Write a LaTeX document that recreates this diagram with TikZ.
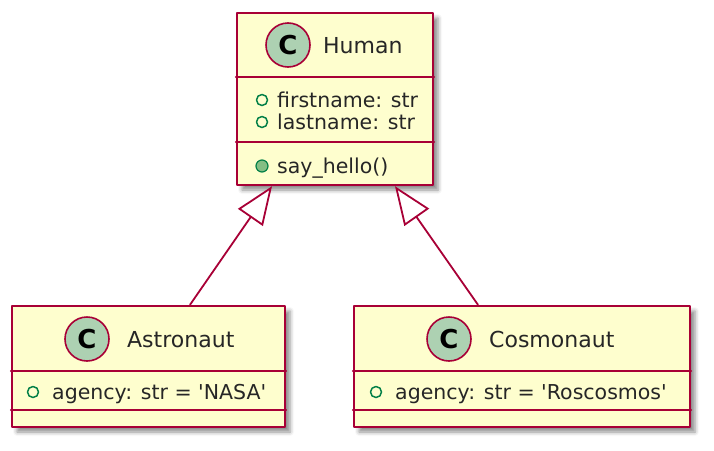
\documentclass[tikz,border=0pt]{standalone}
\usepackage{fontspec}
\setmainfont{DejaVu Sans}
\usepackage{tikz}
\usetikzlibrary{arrows.meta, positioning, calc, shadows.blur}
\definecolor{umlred}{RGB}{168, 0, 54}
\definecolor{umlfill}{RGB}{254, 254, 206}
\definecolor{umlbadge}{RGB}{173, 209, 178}
\definecolor{umlgreen}{RGB}{3, 128, 72}
\definecolor{umlmeth}{RGB}{132, 190, 132}
\tikzset{every path/.style={line cap=round, line join=round}}

\begin{document}
\begin{tikzpicture}[
    x=1pt, y=-1pt,
    classbox/.style={
        draw=umlred,
        fill=umlfill,
        line width=2.4pt,
        rectangle,
        inner sep=0pt,
        blur shadow={shadow xshift=5pt, shadow yshift=-5pt, shadow blur radius=4pt, shadow opacity=45}
    },
    sepline/.style={draw=umlred, line width=2pt},
    badge/.style={
        circle, draw=umlred, fill=umlbadge, line width=1.6pt,
        minimum size=44pt, inner sep=0pt,
        font=\fontsize{26}{26}\selectfont\bfseries
    },
    classname/.style={anchor=base west, inner sep=0pt, text=black!85, font=\fontsize{22}{24}\selectfont},
    member/.style={anchor=base west, inner sep=0pt, text=black!85, font=\fontsize{20.5}{23}\selectfont},
    attrmark/.style={circle, draw=umlgreen, line width=1.5pt, minimum size=11pt, inner sep=0pt},
    methmark/.style={circle, draw=umlgreen, fill=umlmeth, line width=1.2pt, minimum size=12pt, inner sep=0pt},
    inherit/.style={draw=umlred, line width=1.8pt, -{Triangle[open, length=38pt, width=30pt, fill=white]}}
]
\useasboundingbox (0,0) rectangle (714,450);

% Human
\node[classbox, minimum width=196pt, minimum height=172pt] (human) at (335,99) {};
\draw[sepline] (human.west |- 0,77) -- (human.east |- 0,77);
\draw[sepline] (human.west |- 0,142) -- (human.east |- 0,142);
\node[badge] (human-c) at (288,45) {C};
\node[classname] (human-name) at (323,53) {Human};
\node[attrmark] (human-m1) at (262,100) {};
\node[member] (human-first) at (277,107.5) {firstname: str};
\node[attrmark] (human-m2) at (262,122) {};
\node[member] (human-last) at (277,129.5) {lastname: str};
\node[methmark] (human-m3) at (262,166) {};
\node[member] (human-hello) at (277,173.5) {say\_hello()};

% Astronaut
\node[classbox, minimum width=273pt, minimum height=121pt] (astronaut) at (148.5,366.5) {};
\draw[sepline] (astronaut.west |- 0,371) -- (astronaut.east |- 0,371);
\draw[sepline] (astronaut.west |- 0,410) -- (astronaut.east |- 0,410);
\node[badge] (astronaut-c) at (87,339) {C};
\node[classname] (astronaut-name) at (127,347) {Astronaut};
\node[attrmark] (astronaut-m1) at (33,392) {};
\node[member] (astronaut-agency) at (52,399.5) {agency: str = \textquotesingle NASA\textquotesingle};

% Cosmonaut
\node[classbox, minimum width=336pt, minimum height=121pt] (cosmonaut) at (522,366.5) {};
\draw[sepline] (cosmonaut.west |- 0,371) -- (cosmonaut.east |- 0,371);
\draw[sepline] (cosmonaut.west |- 0,410) -- (cosmonaut.east |- 0,410);
\node[badge] (cosmonaut-c) at (449,339) {C};
\node[classname] (cosmonaut-name) at (489,347) {Cosmonaut};
\node[attrmark] (cosmonaut-m1) at (376,392) {};
\node[member] (cosmonaut-agency) at (395,399.5) {agency: str = \textquotesingle Roscosmos\textquotesingle};

\draw[inherit] ([xshift=41.5pt]astronaut.north) -- ([xshift=-63pt]human.south);
\draw[inherit] ([xshift=-44pt]cosmonaut.north) -- ([xshift=60pt]human.south);

\end{tikzpicture}
\end{document}
